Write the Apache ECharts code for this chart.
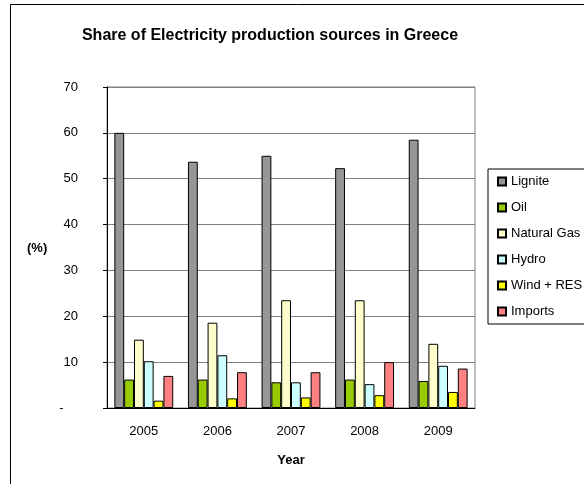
<!DOCTYPE html>
<html>
<head>
<meta charset="utf-8">
<script src="https://cdn.jsdelivr.net/npm/echarts@6/dist/echarts.min.js"></script>
<style>
  html, body { margin: 0; padding: 0; background: #fff; }
  #chart { width: 584px; height: 484px; }
</style>
</head>
<body>
<div id="chart"></div>
<script>
// values (percent)
const years = ['2005', '2006', '2007', '2008', '2009'];
const lignite = [60.0, 53.7, 55.0, 52.3, 58.5];
const oil = [6.2, 6.2, 5.6, 6.2, 5.9];
const naturalGas = [14.9, 18.6, 23.5, 23.5, 14.0];
const hydro = [10.2, 11.5, 5.6, 5.2, 9.2];
const windRes = [1.6, 2.1, 2.3, 2.8, 3.5];
const imports = [7.0, 7.8, 7.8, 10.0, 8.6];

const font = 'Liberation Sans, Arial, sans-serif';

const makeSeries = (name, data, color) => ({
  name: name,
  type: 'bar',
  data: data,
  barGap: '0%',
  barCategoryGap: '20%',
  itemStyle: { color: color, borderColor: '#000', borderWidth: 1 }
});

const myChart = echarts.init(document.getElementById('chart'));
myChart.setOption({
  animation: false,
  backgroundColor: '#fff',
  textStyle: { fontFamily: font },
  title: {
    text: 'Share of Electricity production sources in Greece',
    left: 265,
    textAlign: 'center',
    top: 23,
    textStyle: { fontSize: 16, fontWeight: 'bold', color: '#000', fontFamily: font }
  },
  graphic: [
    {
      type: 'rect',
      shape: { x: 10.5, y: 4.5, width: 600, height: 600 },
      style: { fill: 'none', stroke: '#000', lineWidth: 1 },
      silent: true
    },
    {
      type: 'text',
      left: 27,
      top: 242,
      style: { text: '(%)', font: 'bold 13px ' + font, fill: '#000' }
    }
  ],
  legend: {
    orient: 'vertical',
    left: 488,
    top: 169,
    padding: [6, 6, 6, 9],
    itemGap: 13,
    itemWidth: 8,
    itemHeight: 8,
    borderColor: '#000',
    borderWidth: 1,
    icon: 'rect',
    textStyle: { fontSize: 13, color: '#000', fontFamily: font }
  },
  grid: {
    left: 107, right: 109, top: 87, bottom: 76,
    show: true, borderColor: '#808080', borderWidth: 1
  },
  xAxis: {
    type: 'category',
    data: years,
    name: 'Year',
    nameLocation: 'middle',
    nameGap: 46,
    nameTextStyle: { fontSize: 13, fontWeight: 'bold', color: '#000' },
    axisLine: { lineStyle: { color: '#000', width: 1 } },
    axisTick: { length: 5, lineStyle: { color: '#000' } },
    axisLabel: { fontSize: 13, color: '#000', margin: 17 }
  },
  yAxis: {
    type: 'value',
    min: 0,
    max: 70,
    interval: 10,
    axisLine: { show: true, lineStyle: { color: '#000', width: 1 } },
    axisTick: { show: true, length: 4, lineStyle: { color: '#000' } },
    axisLabel: {
      fontSize: 13,
      color: '#000',
      margin: 29,
      formatter: v => (v === 0 ? '-    ' : String(v))
    },
    splitLine: { lineStyle: { color: '#808080', width: 1 } }
  },
  series: [
    makeSeries('Lignite', lignite, '#969696'),
    makeSeries('Oil', oil, '#99cc00'),
    makeSeries('Natural Gas', naturalGas, '#ffffcc'),
    makeSeries('Hydro', hydro, '#ccffff'),
    makeSeries('Wind + RES', windRes, '#ffff00'),
    makeSeries('Imports', imports, '#ff8080')
  ]
});
</script>
</body>
</html>
